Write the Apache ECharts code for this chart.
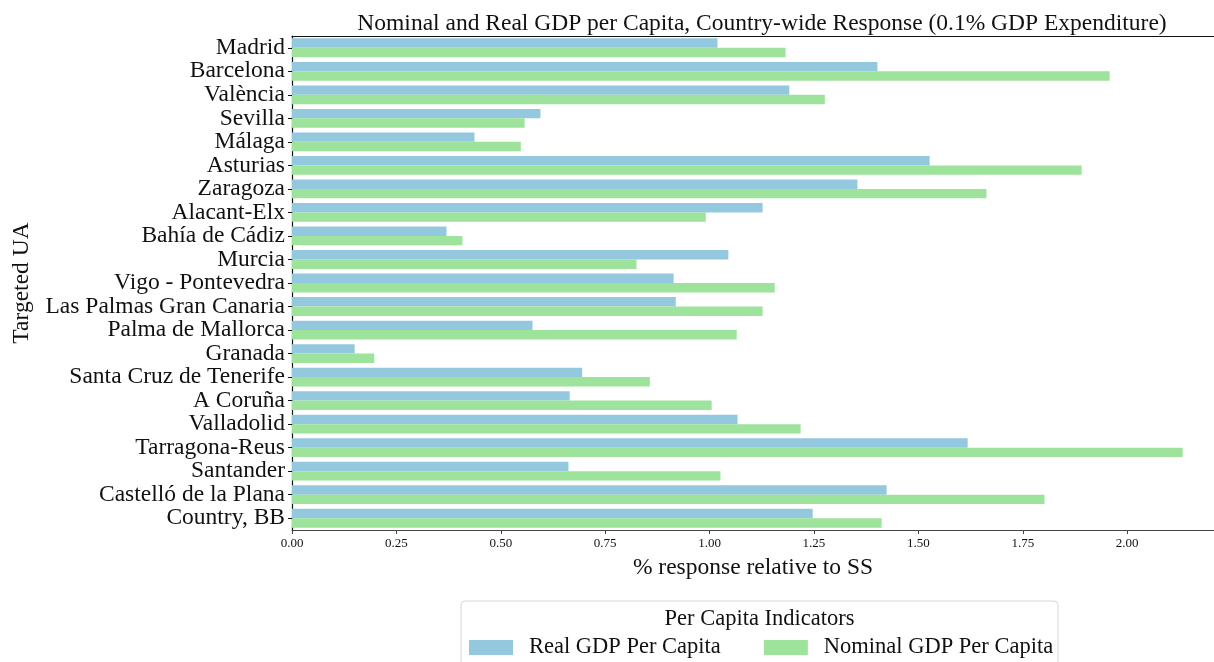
<!DOCTYPE html>
<html>
<head>
<meta charset="utf-8">
<script src="https://cdn.jsdelivr.net/npm/echarts@6/dist/echarts.min.js"></script>
<style>
  html, body { margin: 0; padding: 0; background: #fff; }
  #chart { width: 1214px; height: 662px; }
</style>
</head>
<body>
<div id="chart"></div>
<script>
// Targeted urban areas, top to bottom
const regions = [
  'Madrid', 'Barcelona', 'València', 'Sevilla', 'Málaga', 'Asturias', 'Zaragoza',
  'Alacant-Elx', 'Bahía de Cádiz', 'Murcia', 'Vigo - Pontevedra',
  'Las Palmas Gran Canaria', 'Palma de Mallorca', 'Granada',
  'Santa Cruz de Tenerife', 'A Coruña', 'Valladolid', 'Tarragona-Reus',
  'Santander', 'Castelló de la Plana', 'Country, BB'
];

// % response relative to steady state
const realGdpPc = [
  1.019, 1.402, 1.191, 0.595, 0.437, 1.527, 1.354,
  1.127, 0.370, 1.045, 0.914,
  0.919, 0.576, 0.150,
  0.695, 0.665, 1.067, 1.618,
  0.662, 1.424, 1.247
];
const nominalGdpPc = [
  1.182, 1.958, 1.276, 0.557, 0.548, 1.891, 1.663,
  0.991, 0.408, 0.825, 1.156,
  1.127, 1.065, 0.197,
  0.857, 1.005, 1.218, 2.133,
  1.026, 1.802, 1.412
];

const xTicks = [0, 0.25, 0.5, 0.75, 1.0, 1.25, 1.5, 1.75, 2.0];

const FONT = '"Liberation Serif", "DejaVu Serif", serif';
const BLUE = '#94c8df';
const GREEN = '#9de39b';
const X_MAX = 2.208;

const chart = echarts.init(document.getElementById('chart'), null, { renderer: 'canvas' });

chart.setOption({
  animation: false,
  backgroundColor: '#ffffff',
  textStyle: { fontFamily: FONT, color: '#000' },
  title: {
    text: 'Nominal and Real GDP per Capita, Country-wide Response (0.1% GDP Expenditure)',
    left: 757, top: 7, textAlign: 'center',
    textStyle: { fontFamily: FONT, fontSize: 23.5, fontWeight: 'normal', color: '#111' }
  },
  grid: { left: 292, top: 36, right: 0, bottom: 132, containLabel: false },
  xAxis: [{
    type: 'value', min: 0, max: X_MAX, interval: 0.25,
    name: '% response relative to SS', nameLocation: 'middle', nameGap: 26,
    nameTextStyle: { fontFamily: FONT, fontSize: 23.5, color: '#111' },
    axisLine: { show: true, lineStyle: { color: '#444', width: 1.2 } },
    axisTick: { show: true, length: 4, lineStyle: { color: '#444' } },
    splitLine: { show: false },
    axisLabel: {
      fontFamily: FONT, fontSize: 13, color: '#111', margin: 7,
      showMaxLabel: false,
      formatter: v => (xTicks.some(t => Math.abs(t - v) < 1e-9) ? v.toFixed(2) : '')
    }
  }, {
    type: 'value', min: 0, max: X_MAX, position: 'top',
    axisLine: { show: true, lineStyle: { color: '#111', width: 1.2 } },
    axisTick: { show: false }, axisLabel: { show: false }, splitLine: { show: false }
  }],
  yAxis: {
    type: 'category', data: regions, inverse: true,
    name: 'Targeted UA', nameLocation: 'middle', nameGap: 258, nameRotate: 90,
    nameTextStyle: { fontFamily: FONT, fontSize: 23.5, color: '#111' },
    axisLine: { show: true, lineStyle: { color: '#111', width: 1.2 } },
    axisTick: { show: true, alignWithLabel: true, interval: 0, length: 4, lineStyle: { color: '#111' } },
    axisLabel: { interval: 0, fontFamily: FONT, fontSize: 23.5, color: '#111', margin: 7 }
  },
  legend: {
    left: 469, top: 636, orient: 'horizontal', padding: 0,
    itemWidth: 44, itemHeight: 15, itemGap: 43,
    icon: 'rect',
    textStyle: { fontFamily: FONT, fontSize: 22.5, color: '#111', padding: [0, 0, 0, 11] },
    data: ['Real GDP Per Capita', 'Nominal GDP Per Capita']
  },
  graphic: [
    {
      type: 'rect', x: 461, y: 601, z: -1,
      shape: { width: 597, height: 90, r: 4 },
      style: { fill: '#fff', stroke: '#d6d6d6', lineWidth: 1 }
    },
    {
      type: 'text', x: 759.5, y: 619,
      style: {
        text: 'Per Capita Indicators', fontFamily: FONT, fontSize: 22.5,
        fill: '#111', align: 'center', verticalAlign: 'middle'
      }
    }
  ],
  series: [
    {
      name: 'Real GDP Per Capita', type: 'bar', data: realGdpPc,
      barWidth: '40%', barGap: '0%',
      itemStyle: { color: BLUE }
    },
    {
      name: 'Nominal GDP Per Capita', type: 'bar', data: nominalGdpPc,
      barWidth: '40%', barGap: '0%',
      itemStyle: { color: GREEN }
    }
  ]
});
</script>
</body>
</html>
